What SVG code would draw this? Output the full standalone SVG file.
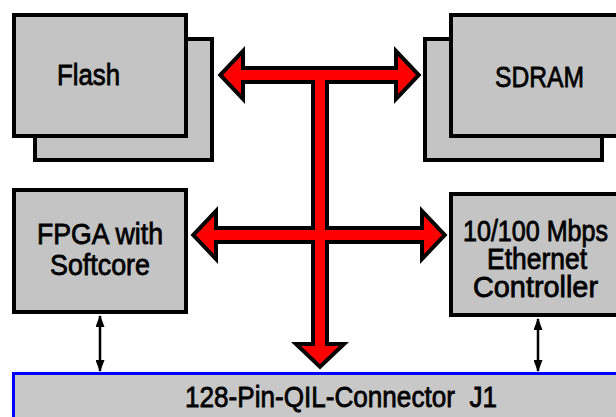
<svg xmlns="http://www.w3.org/2000/svg" width="616" height="417" viewBox="0 0 616 417">
<style>
.box{fill:#c4c4c4;stroke:#000;stroke-width:4}
.lbl{font-family:"Liberation Sans",Arial,sans-serif;font-size:30px;fill:#000;stroke:#000;stroke-width:0.8}
.sm{font-size:29px}
.sig{stroke:#000;stroke-width:2.5;fill:none;marker-start:url(#ah);marker-end:url(#ah)}
</style>
<defs>
<marker id="ah" viewBox="0 0 12 9" refX="11" refY="4.5" markerWidth="12" markerHeight="9" markerUnits="userSpaceOnUse" orient="auto-start-reverse">
<path d="M0,0 L12,4.5 L0,9 Z" fill="#000"/>
</marker>
<path id="b1" d="M223,75 L241,56 L241,70 L398,70 L398,56 L416,75 L398,94 L398,80 L241,80 L241,94 Z"/>
<path id="b2" d="M196,235 L214,216 L214,230 L424,230 L424,216 L442,235 L424,254 L424,240 L214,240 L214,254 Z"/>
<path id="b3" d="M315,70 L325,70 L325,346 L339,346 L320,364 L301,346 L315,346 Z"/>
</defs>
<rect width="616" height="417" fill="#fff"/>
<g id="flash">
<rect class="box" x="35" y="39" width="177" height="121"/>
<rect class="box" x="14" y="15" width="172" height="121"/>
<text class="lbl" x="57" y="85" textLength="63" lengthAdjust="spacingAndGlyphs">Flash</text>
</g>
<g id="sdram">
<rect class="box" x="425" y="39" width="177" height="121"/>
<rect class="box" x="451" y="15" width="200" height="121"/>
<text class="lbl" x="495" y="87" textLength="89" lengthAdjust="spacingAndGlyphs">SDRAM</text>
</g>
<g id="fpga">
<rect class="box" x="14" y="190" width="172" height="122"/>
<text class="lbl" x="37" y="244" textLength="126" lengthAdjust="spacingAndGlyphs">FPGA with</text>
<text class="lbl" x="50" y="275" textLength="100" lengthAdjust="spacingAndGlyphs">Softcore</text>
</g>
<g id="ethernet">
<rect class="box" x="451" y="194" width="200" height="121"/>
<text class="lbl sm" x="463" y="241" textLength="145" lengthAdjust="spacingAndGlyphs">10/100 Mbps</text>
<text class="lbl sm" x="487" y="269" textLength="100" lengthAdjust="spacingAndGlyphs">Ethernet</text>
<text class="lbl sm" x="473" y="297" textLength="125" lengthAdjust="spacingAndGlyphs">Controller</text>
</g>
<g id="connector">
<rect x="13.5" y="373.5" width="700" height="100" fill="#c8c8c8" stroke="#0000ff" stroke-width="3"/>
<text class="lbl" x="185" y="407" textLength="312" lengthAdjust="spacingAndGlyphs" style="white-space:pre">128-Pin-QIL-Connector  J1</text>
</g>
<g id="connectors">
<g id="bus">
<use href="#b1" fill="none" stroke="#000" stroke-width="8" stroke-linejoin="miter"/>
<use href="#b2" fill="none" stroke="#000" stroke-width="8" stroke-linejoin="miter"/>
<use href="#b3" fill="none" stroke="#000" stroke-width="8" stroke-linejoin="miter"/>
<use href="#b1" fill="#ff0000"/>
<use href="#b2" fill="#ff0000"/>
<use href="#b3" fill="#ff0000"/>
</g>
<line class="sig" x1="100" y1="316" x2="100" y2="371"/>
<line class="sig" x1="538" y1="319" x2="538" y2="371"/>
</g>
</svg>
